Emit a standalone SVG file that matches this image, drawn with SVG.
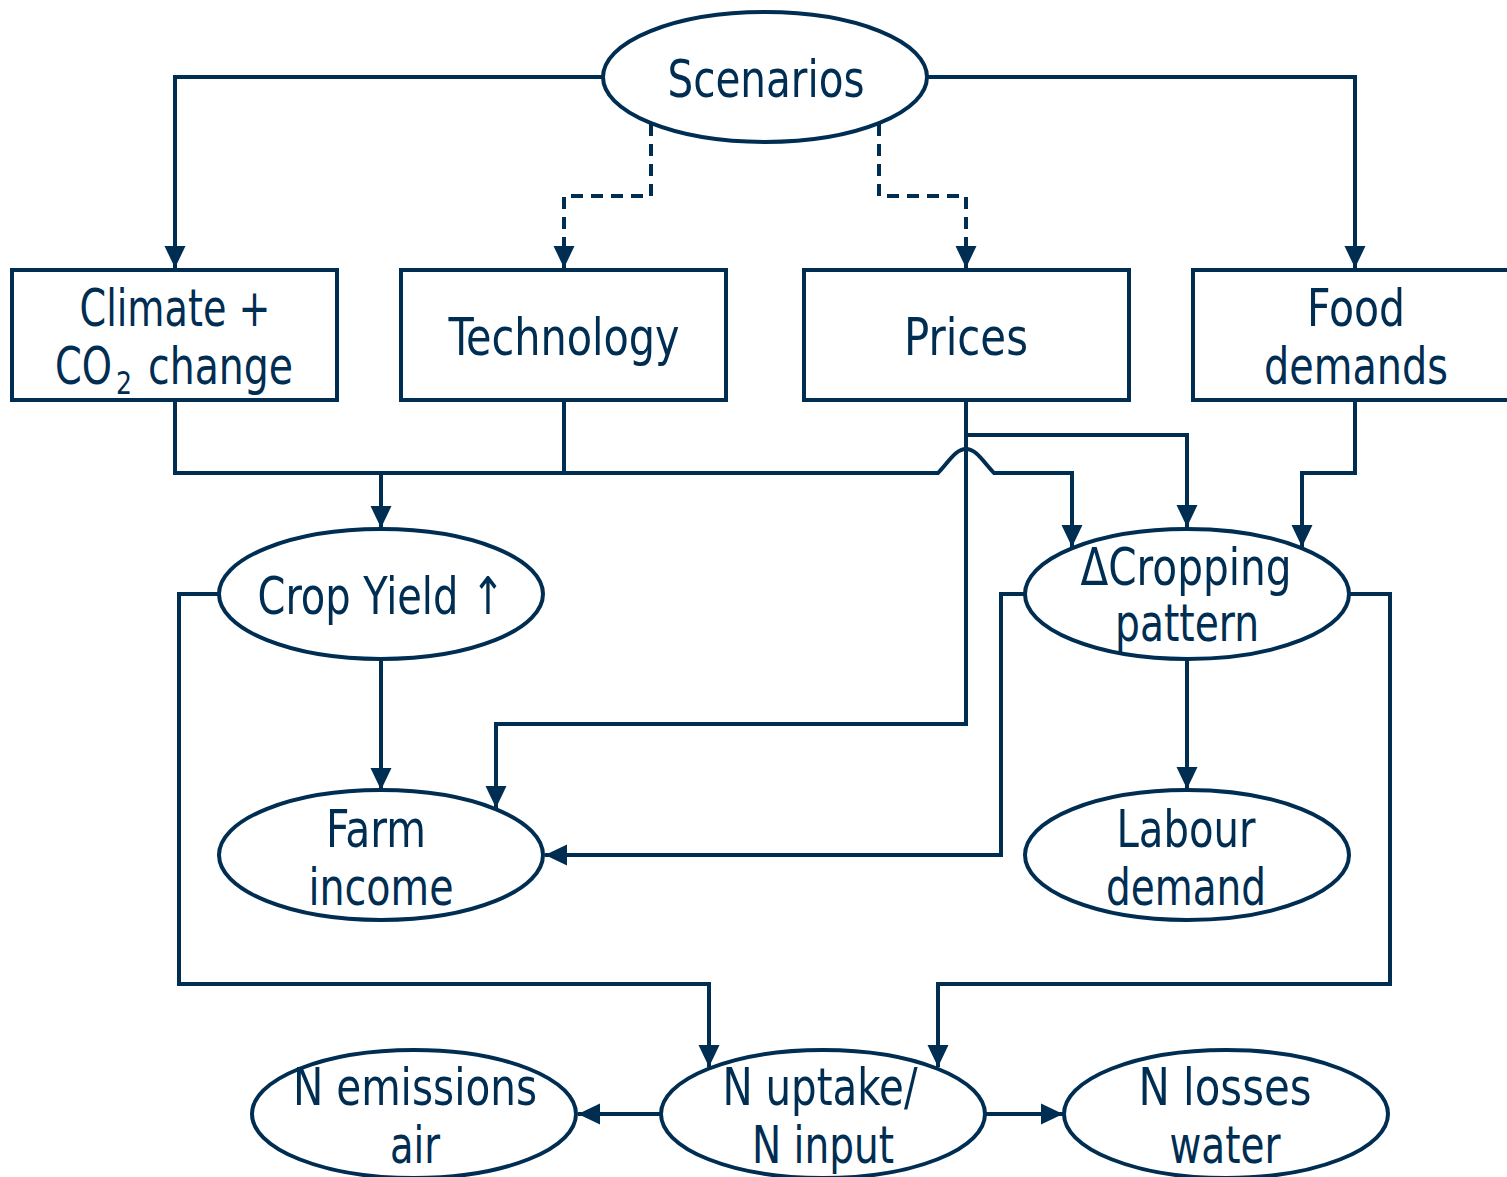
<svg xmlns="http://www.w3.org/2000/svg" width="1507" height="1177" viewBox="0 0 1507 1177">
<style>
.n{fill:#fff;stroke:#002d52;stroke-width:4}
.c{fill:none;stroke:#002d52;stroke-width:4}
.d{stroke-dasharray:12 8}
text{font-family:"DejaVu Sans Condensed","Liberation Sans",sans-serif;font-size:52px;fill:#002d52;text-anchor:middle}
text.s{text-anchor:start}
text.sub{font-size:32px;text-anchor:start}
</style>
<defs>
<marker id="a" markerUnits="userSpaceOnUse" markerWidth="24" markerHeight="24" viewBox="0 0 24 24" refX="22" refY="12" orient="auto">
<path d="M0,1.5 L22,12 L0,22.5 Z" fill="#002d52"/>
</marker>
</defs>
<g id="connectors">
<path class="c" d="M603,77 H175 V268" marker-end="url(#a)"/>
<path class="c" d="M927,77 H1355 V268" marker-end="url(#a)"/>
<path class="c d" d="M651,124 V196 H564 V268" marker-end="url(#a)"/>
<path class="c d" d="M879,124 V196 H966 V268" marker-end="url(#a)"/>
<path class="c" d="M175,400 V473 H938 C950,460 956,449 966,449 C976,449 982,460 994,473 H1072 V547" marker-end="url(#a)"/>
<path class="c" d="M564,400 V473"/>
<path class="c" d="M381,473 V528" marker-end="url(#a)"/>
<path class="c" d="M966,400 V724 H496 V808" marker-end="url(#a)"/>
<path class="c" d="M966,435 H1187 V527" marker-end="url(#a)"/>
<path class="c" d="M1355,400 V473 H1302 V547" marker-end="url(#a)"/>
<path class="c" d="M381,659 V790" marker-end="url(#a)"/>
<path class="c" d="M1187,659 V789" marker-end="url(#a)"/>
<path class="c" d="M1025,594 H1001 V855 H545" marker-end="url(#a)"/>
<path class="c" d="M219,594 H179 V984 H709 V1067" marker-end="url(#a)"/>
<path class="c" d="M1349,594 H1390 V984 H938 V1067" marker-end="url(#a)"/>
<path class="c" d="M661,1114 H578" marker-end="url(#a)"/>
<path class="c" d="M985,1114 H1063" marker-end="url(#a)"/>
</g>
<g id="scenarios"><ellipse class="n" cx="765" cy="77" rx="162" ry="65"/><text x="766" y="97" textLength="197" lengthAdjust="spacingAndGlyphs">Scenarios</text></g>
<g id="climate"><rect class="n" x="12" y="270" width="325" height="130"/><text x="175" y="326" textLength="191" lengthAdjust="spacingAndGlyphs">Climate +</text><text class="s" x="55" y="384" textLength="57" lengthAdjust="spacingAndGlyphs">CO</text><text class="sub" x="116" y="394" textLength="16" lengthAdjust="spacingAndGlyphs">2</text><text class="s" x="148" y="384" textLength="145" lengthAdjust="spacingAndGlyphs">change</text></g>
<g id="technology"><rect class="n" x="401" y="270" width="325" height="130"/><text x="564" y="355" textLength="231" lengthAdjust="spacingAndGlyphs">Technology</text></g>
<g id="prices"><rect class="n" x="804" y="270" width="325" height="130"/><text x="966" y="355" textLength="124" lengthAdjust="spacingAndGlyphs">Prices</text></g>
<g id="food"><rect class="n" x="1193" y="270" width="325" height="130"/><text x="1356" y="326" textLength="98" lengthAdjust="spacingAndGlyphs">Food</text><text x="1356" y="384" textLength="184" lengthAdjust="spacingAndGlyphs">demands</text></g>
<g id="cropyield"><ellipse class="n" cx="381" cy="594" rx="162" ry="65"/><text x="381" y="614" textLength="247" lengthAdjust="spacingAndGlyphs">Crop Yield ↑</text></g>
<g id="cropping"><ellipse class="n" cx="1187" cy="594" rx="162" ry="65"/><text x="1186" y="585" textLength="211" lengthAdjust="spacingAndGlyphs">ΔCropping</text><text x="1187" y="641" textLength="144" lengthAdjust="spacingAndGlyphs">pattern</text></g>
<g id="farmincome"><ellipse class="n" cx="381" cy="855" rx="162" ry="65"/><text x="376" y="847" textLength="100" lengthAdjust="spacingAndGlyphs">Farm</text><text x="381" y="905" textLength="145" lengthAdjust="spacingAndGlyphs">income</text></g>
<g id="labour"><ellipse class="n" cx="1187" cy="855" rx="162" ry="65"/><text x="1186" y="847" textLength="139" lengthAdjust="spacingAndGlyphs">Labour</text><text x="1186" y="905" textLength="160" lengthAdjust="spacingAndGlyphs">demand</text></g>
<g id="nemissions"><ellipse class="n" cx="414" cy="1114" rx="162" ry="64"/><text x="415" y="1105" textLength="244" lengthAdjust="spacingAndGlyphs">N emissions</text><text x="415" y="1163" textLength="50" lengthAdjust="spacingAndGlyphs">air</text></g>
<g id="nuptake"><ellipse class="n" cx="823" cy="1114" rx="162" ry="64"/><text x="820" y="1105" textLength="195" lengthAdjust="spacingAndGlyphs">N uptake/</text><text x="823" y="1163" textLength="142" lengthAdjust="spacingAndGlyphs">N input</text></g>
<g id="nlosses"><ellipse class="n" cx="1226" cy="1114" rx="162" ry="64"/><text x="1225" y="1105" textLength="173" lengthAdjust="spacingAndGlyphs">N losses</text><text x="1225" y="1163" textLength="111" lengthAdjust="spacingAndGlyphs">water</text></g>
</svg>
